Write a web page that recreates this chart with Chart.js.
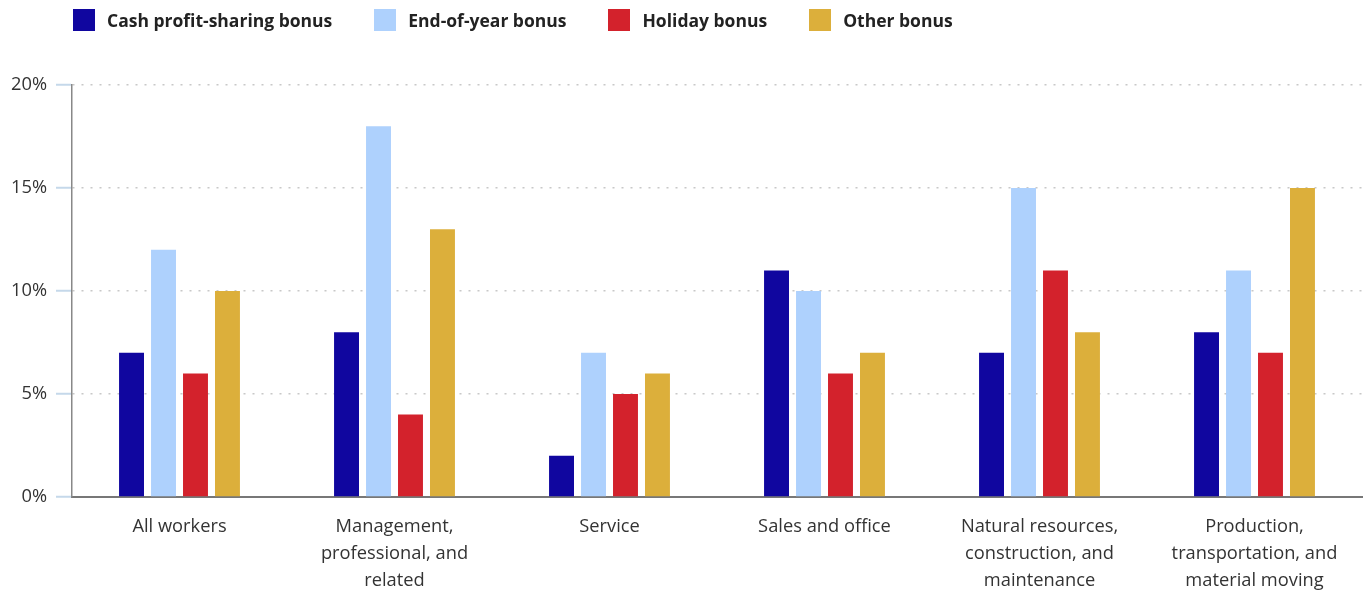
<!DOCTYPE html>
<html>
<head>
<meta charset="utf-8">
<script src="https://cdn.jsdelivr.net/npm/chart.js@4"></script>
<style>
  html, body { margin: 0; padding: 0; background: #fff; }
  #wrap { position: relative; width: 1364px; height: 590px; }
  #legend { position: absolute; top: 9px; left: 73px; display: flex; gap: 42px; font-family: "Open Sans", Lato, sans-serif; font-weight: bold; font-size: 17.5px; line-height: 22px; color: #222; }
  #legend .item { display: flex; align-items: center; }
  #legend .box { width: 22px; height: 22px; margin-right: 12px; }
</style>
</head>
<body>
<div id="wrap">
  <canvas id="chart" width="1364" height="590"></canvas>
  <div id="legend"></div>
</div>
<script>
  // categories and series
  const categories = [
    'All workers',
    ['Management,', 'professional, and', 'related'],
    'Service',
    'Sales and office',
    ['Natural resources,', 'construction, and', 'maintenance'],
    ['Production,', 'transportation, and', 'material moving']
  ];
  const seriesNames = ['Cash profit-sharing bonus', 'End-of-year bonus', 'Holiday bonus', 'Other bonus'];
  const cashProfit = [7, 8, 2, 11, 7, 8];
  const endOfYear = [12, 18, 7, 10, 15, 11];
  const holiday = [6, 4, 5, 6, 11, 7];
  const otherBonus = [10, 13, 6, 7, 8, 15];
  const yTicks = [0, 5, 10, 15, 20];

  const colors = ['#10069f', '#aed1fd', '#d3222c', '#dcaf3b'];
  const values = [cashProfit, endOfYear, holiday, otherBonus];

  const datasets = seriesNames.map((name, i) => ({
    label: name,
    data: values[i],
    backgroundColor: colors[i],
    categoryPercentage: 0.595,
    barPercentage: 0.78
  }));

  // html legend
  const legendEl = document.getElementById('legend');
  seriesNames.forEach((name, i) => {
    const item = document.createElement('div');
    item.className = 'item';
    item.innerHTML = '<span class="box" style="background:' + colors[i] + '"></span><span>' + name + '</span>';
    legendEl.appendChild(item);
  });

  const font = { family: '"Open Sans", Lato, sans-serif', size: 18.3 };

  new Chart(document.getElementById('chart').getContext('2d'), {
    type: 'bar',
    data: { labels: categories, datasets: datasets },
    options: {
      responsive: false,
      animation: false,
      layout: { padding: { top: 85, right: 2, left: 0, bottom: 0 } },
      plugins: { legend: { display: false }, tooltip: { enabled: false } },
      scales: {
        x: {
          grid: { display: false, drawTicks: false },
          border: { color: '#777', width: 2 },
          ticks: { color: '#333', font: { ...font, lineHeight: 1.45 }, padding: 17, maxRotation: 0, autoSkip: false },
          afterFit: (s) => { s.height = 93; }
        },
        y: {
          min: 0,
          max: 20,
          afterBuildTicks: (s) => { s.ticks = yTicks.map(v => ({ value: v })); },
          ticks: { color: '#333', font: font, padding: 9, callback: (v) => v + '%' },
          grid: { color: '#c8c8c8', tickColor: '#c5d8ea', tickLength: 16, lineWidth: 1.5, tickWidth: 2 },
          border: { color: '#888', width: 1.5, dash: [2, 7] },
          afterFit: (s) => { s.width = 72; }
        }
      }
    }
  });
</script>
</body>
</html>
